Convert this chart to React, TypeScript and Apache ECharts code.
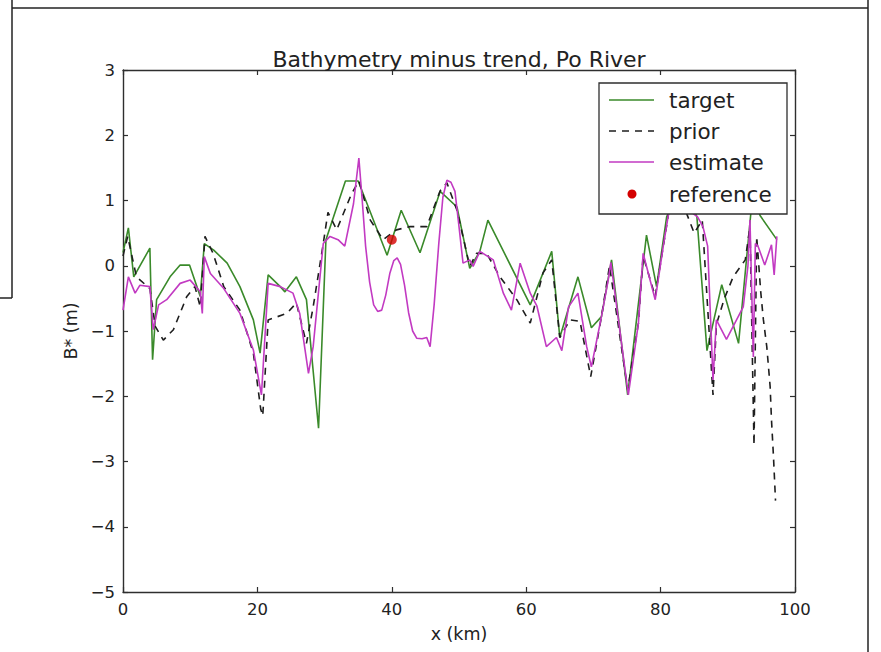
import React, { useEffect, useRef } from "react";
import * as echarts from "echarts";

// ---- data ----
const targetX = [0, 0.8, 1.6, 4.0, 4.4, 5.0, 7.0, 8.5, 9.9, 11.5, 12.1, 13.5, 15.5, 17.4, 19.4, 20.4, 21.6, 23.4, 24.1, 25.8, 27.3, 29.1, 30.2, 33.1, 35.0, 39.3, 41.4, 44.2, 47.2, 49.7, 51.6, 53.1, 54.3, 60.6, 63.8, 65.0, 67.7, 69.7, 71.2, 72.7, 75.1, 77.9, 79.4, 80.9, 82.0, 84.0, 85.4, 86.9, 89.1, 91.6, 93.7, 94.8, 97.3];
const targetY = [0.2, 0.58, -0.17, 0.27, -1.44, -0.52, -0.17, 0.01, 0.01, -0.47, 0.34, 0.24, 0.04, -0.32, -0.83, -1.34, -0.14, -0.32, -0.4, -0.17, -0.52, -2.49, 0.4, 1.3, 1.3, 0.16, 0.85, 0.2, 1.14, 0.9, -0.04, 0.22, 0.7, -0.6, 0.22, -1.1, -0.17, -0.95, -0.78, 0.09, -1.98, 0.47, -0.32, 0.75, 1.0, 1.1, 0.75, -1.3, -0.29, -1.19, 1.1, 0.77, 0.4];

const priorX = [0, 0.7, 2.0, 4.0, 4.8, 6.0, 7.5, 9.5, 10.7, 11.5, 12.2, 13.4, 15.0, 17.4, 19.4, 20.5, 20.8, 21.6, 24.4, 25.8, 27.3, 28.3, 29.8, 30.5, 31.8, 34.0, 35.1, 36.8, 38.7, 40.7, 42.7, 45.2, 47.2, 48.2, 49.7, 51.6, 52.6, 54.1, 56.1, 58.6, 60.6, 62.5, 63.8, 65.0, 66.5, 68.0, 69.6, 71.2, 72.4, 75.1, 76.7, 77.4, 79.2, 80.4, 81.5, 83.5, 85.0, 86.2, 87.8, 88.3, 89.5, 90.8, 92.6, 93.3, 93.9, 94.3, 94.9, 95.3, 95.8, 96.3, 96.5, 96.8, 97.1];
const priorY = [0.15, 0.45, -0.17, -0.35, -0.93, -1.14, -0.98, -0.47, -0.32, -0.63, 0.45, 0.19, -0.32, -0.68, -1.34, -2.2, -2.3, -0.83, -0.73, -0.57, -1.19, -0.63, 0.34, 0.82, 0.55, 1.1, 1.3, 0.7, 0.4, 0.55, 0.6, 0.6, 1.15, 1.27, 0.85, -0.01, 0.19, 0.19, -0.17, -0.52, -0.88, -0.11, 0.09, -1.1, -0.83, -0.85, -1.7, -0.78, 0.0, -1.9, -0.88, 0.15, -0.47, 0.3, 1.0, 0.9, 0.5, 0.7, -1.98, -0.9, -0.5, -0.17, 0.09, 0.6, -2.75, 0.45, -0.4, -0.83, -1.24, -1.85, -2.36, -2.93, -3.6];

const estimateX = [0, 0.8, 1.8, 2.5, 4.0, 4.5, 5.3, 6.5, 8.5, 10.0, 11.5, 11.8, 12.1, 13.0, 15.0, 17.4, 19.4, 20.6, 21.6, 23.4, 25.3, 26.3, 27.6, 28.3, 29.8, 30.8, 32.0, 33.0, 34.3, 35.1, 35.6, 36.1, 36.7, 37.3, 37.9, 38.5, 39.1, 39.7, 40.3, 40.8, 41.3, 41.9, 42.5, 43.1, 43.7, 44.5, 45.2, 45.7, 46.3, 47.0, 47.6, 48.2, 48.8, 49.4, 50.0, 50.6, 51.6, 52.1, 53.1, 55.1, 56.6, 57.8, 59.1, 60.6, 61.6, 63.0, 64.5, 65.3, 66.3, 67.7, 69.0, 69.7, 71.2, 72.2, 72.6, 75.2, 76.7, 77.4, 79.2, 80.4, 81.5, 83.5, 85.5, 86.3, 87.0, 87.8, 88.3, 89.8, 92.3, 93.0, 93.3, 93.8, 94.1, 94.5, 95.5, 96.5, 96.9, 97.3];
const estimateY = [-0.68, -0.17, -0.42, -0.3, -0.32, -0.98, -0.6, -0.52, -0.27, -0.22, -0.4, -0.73, 0.14, -0.12, -0.35, -0.73, -1.29, -1.98, -0.27, -0.32, -0.42, -0.73, -1.65, -1.24, 0.34, 0.45, 0.4, 0.3, 0.95, 1.65, 1.0, 0.3, -0.25, -0.6, -0.7, -0.68, -0.45, -0.12, 0.08, 0.12, 0.02, -0.3, -0.72, -1.0, -1.11, -1.12, -1.1, -1.24, -0.6, 0.35, 1.05, 1.31, 1.28, 1.14, 0.6, 0.04, 0.09, -0.01, 0.22, 0.09, -0.42, -0.68, 0.04, -0.42, -0.62, -1.24, -1.1, -1.3, -0.63, -0.42, -1.24, -1.55, -0.78, -0.22, 0.05, -1.98, -0.88, 0.19, -0.52, 0.3, 1.0, 0.9, 0.75, 0.6, 0.3, -1.75, -0.83, -1.13, -0.63, 0.0, 0.7, -1.4, 0.34, 0.3, 0.01, 0.32, -0.14, 0.45];

const referenceX = [40];
const referenceY = [0.4];

const seriesNames = ["target", "prior", "estimate", "reference"];
const titleText = "Bathymetry minus trend, Po River";
const xLabel = "x (km)";
const yLabel = "B* (m)";

const pairs = (xs: number[], ys: number[]) => xs.map((x, i) => [x, ys[i]]);

const GREEN = "#3a8a2a";
const MAGENTA = "#c23ac2";
const BLACK = "#1e1e1e";
const RED = "#d40000";
const FONT = "'DejaVu Sans', 'Bitstream Vera Sans', Verdana, sans-serif";
const TXT = "#222";
const AX = "#2e2e2e";

export default function App() {
  const ref = useRef<HTMLDivElement>(null);
  useEffect(() => {
    const chart = echarts.init(ref.current!, null, { renderer: "svg" });
    const minus = (v: number) => String(v).replace("-", "\u2212");
    const axisCommon = {
      type: "value",
      axisLine: { show: true, onZero: false, lineStyle: { color: AX, width: 1.4 } },
      axisTick: { show: true, inside: true, length: 5, lineStyle: { color: AX, width: 1.2 } },
      splitLine: { show: false },
    };
    const legendRows = [100, 131, 162, 194];
    const legendGraphics: any[] = [
      { type: "rect", zlevel: 1, z: 100, shape: { x: 599, y: 83, width: 188, height: 131 }, style: { fill: "#fff", stroke: AX, lineWidth: 1.3 } },
      { type: "line", zlevel: 1, z: 101, shape: { x1: 609, y1: legendRows[0], x2: 654, y2: legendRows[0] }, style: { stroke: GREEN, lineWidth: 1.6 } },
      { type: "line", zlevel: 1, z: 101, shape: { x1: 609, y1: legendRows[1], x2: 654, y2: legendRows[1] }, style: { stroke: BLACK, lineWidth: 1.6, lineDash: [7, 6] } },
      { type: "line", zlevel: 1, z: 101, shape: { x1: 609, y1: legendRows[2], x2: 654, y2: legendRows[2] }, style: { stroke: MAGENTA, lineWidth: 1.6 } },
      { type: "circle", zlevel: 1, z: 101, shape: { cx: 632, cy: legendRows[3], r: 4.5 }, style: { fill: RED } },
      ...seriesNames.map((n, i) => ({
        type: "text", zlevel: 1, z: 101, x: 669, y: legendRows[i],
        style: { text: n, fill: TXT, font: `21.5px ${FONT}`, textVerticalAlign: "middle", verticalAlign: "middle" },
      })),
    ];
    const frame: any[] = [
      { type: "line", zlevel: 1, z: 120, shape: { x1: 12, y1: 0, x2: 12, y2: 298 }, style: { stroke: "#222", lineWidth: 1.5 } },
      { type: "line", zlevel: 1, z: 120, shape: { x1: 0, y1: 298, x2: 12, y2: 298 }, style: { stroke: "#222", lineWidth: 1.5 } },
      { type: "line", zlevel: 1, z: 120, shape: { x1: 12, y1: 8, x2: 868, y2: 8 }, style: { stroke: "#222", lineWidth: 1.5 } },
      { type: "line", zlevel: 1, z: 120, shape: { x1: 868, y1: 0, x2: 868, y2: 652 }, style: { stroke: "#222", lineWidth: 1.5 } },
    ];
    chart.setOption({
      animation: false,
      backgroundColor: "#fff",
      textStyle: { fontFamily: FONT },
      title: {
        text: titleText, left: 454, top: 43, textAlign: "center",
        textStyle: { fontSize: 22, fontWeight: "normal", color: TXT, fontFamily: FONT },
      },
      grid: { left: 123, top: 70, width: 672, height: 522, show: false },
      xAxis: [
        {
          ...axisCommon, min: 0, max: 100, interval: 20, position: "bottom",
          axisLabel: { margin: 9, fontSize: 16.5, color: TXT, fontFamily: FONT },
          name: xLabel, nameLocation: "middle", nameGap: 33,
          nameTextStyle: { fontSize: 17.5, color: TXT, fontFamily: FONT },
        },
        { ...axisCommon, min: 0, max: 100, interval: 20, position: "top", axisLabel: { show: false } },
      ],
      yAxis: [
        {
          ...axisCommon, min: -5, max: 3, interval: 1, position: "left",
          axisLabel: { margin: 8, fontSize: 16.5, color: TXT, fontFamily: FONT, formatter: minus },
          name: yLabel, nameLocation: "middle", nameGap: 35, nameRotate: 90,
          nameTextStyle: { fontSize: 17.5, color: TXT, fontFamily: FONT },
        },
        { ...axisCommon, min: -5, max: 3, interval: 1, position: "right", axisLabel: { show: false } },
      ],
      series: [
        { name: seriesNames[0], type: "line", data: pairs(targetX, targetY), symbol: "none", lineStyle: { color: GREEN, width: 1.6 }, z: 2 },
        { name: seriesNames[1], type: "line", data: pairs(priorX, priorY), symbol: "none", lineStyle: { color: BLACK, width: 1.6, type: [7, 6] }, z: 3 },
        { name: seriesNames[2], type: "line", data: pairs(estimateX, estimateY), symbol: "none", lineStyle: { color: MAGENTA, width: 1.6 }, z: 4 },
        { name: seriesNames[3], type: "scatter", data: pairs(referenceX, referenceY), symbolSize: 10, itemStyle: { color: RED }, z: 5 },
      ],
      graphic: [...legendGraphics, ...frame],
    });
    return () => chart.dispose();
  }, []);
  return <div ref={ref} style={{ position: "fixed", left: 0, top: 0, width: 881, height: 652 }} />;
}
